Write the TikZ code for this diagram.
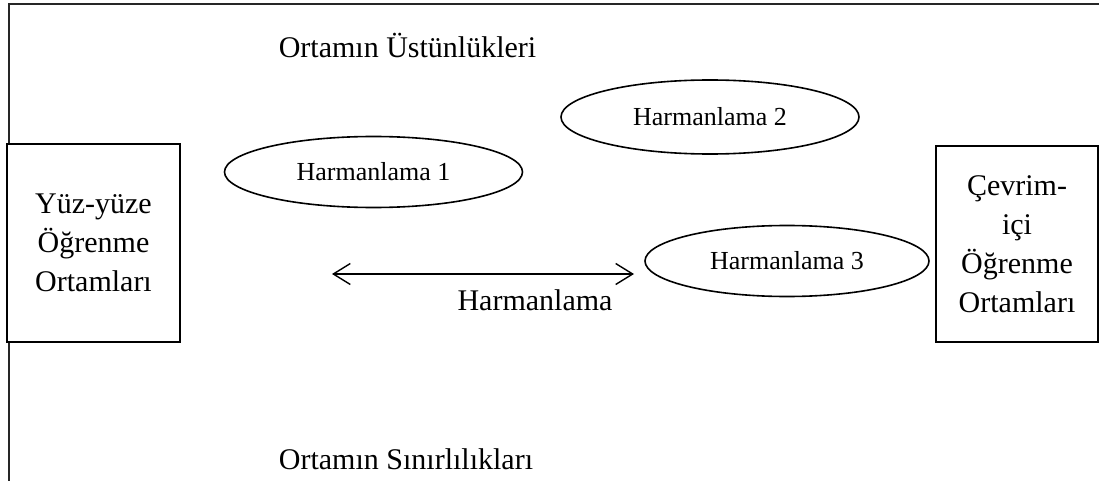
\documentclass[tikz,border=0pt]{standalone}
\usepackage{fontspec}
\setmainfont{Liberation Serif}
\usetikzlibrary{shapes.geometric,arrows.meta}
\tikzset{
  bigtext/.style={font=\fontsize{30}{39}\selectfont},
  sidebox/.style={draw, fill=white, line width=1.6pt, inner sep=0pt, align=center, bigtext},
  blend/.style={draw, ellipse, line width=1.6pt, inner sep=0pt, minimum width=298pt, minimum height=71pt, font=\fontsize{26}{30}\selectfont},
  frameline/.style={line width=2.2pt, black!85},
  dblarrow/.style={line width=1.4pt, {Straight Barb[length=17pt,width=21pt,line width=1.4pt]}-{Straight Barb[length=17pt,width=21pt,line width=1.4pt]}}
}
\begin{document}
\begin{tikzpicture}[x=1pt,y=-1pt]
\useasboundingbox (0,0) rectangle (1099,481);
% frame
\coordinate (fTR) at (1099,4);
\coordinate (fTL) at (9,4);
\coordinate (fBL) at (9,481);
\draw[frameline] (fTR) -- (fTL) -- (fBL);
% side boxes
\node[sidebox, minimum width=173pt, minimum height=198pt] (left) at (93.5,243) {Yüz-yüze\\Öğrenme\\Ortamları};
\node[sidebox, minimum width=162pt, minimum height=196pt] (right) at (1017,244) {Çevrim-\\içi\\Öğrenme\\Ortamları};
% ellipses
\node[blend] (h1) at (373.5,172) {Harmanlama 1};
\node[blend, minimum height=74pt] (h2) at (710,117) {Harmanlama 2};
\node[blend, minimum width=284pt] (h3) at (787,261) {Harmanlama 3};
% arrow
\coordinate (aL) at (332,274);
\coordinate (aR) at (634,274);
\draw[dblarrow] (aL) -- (aR);
\node[bigtext] (harm) at (535,300) {Harmanlama};
% headings
\node[bigtext] (ust) at (407.5,45) {Ortamın Üstünlükleri};
\node[bigtext] (sin) at (406,459) {Ortamın Sınırlılıkları};
\end{tikzpicture}
\end{document}
